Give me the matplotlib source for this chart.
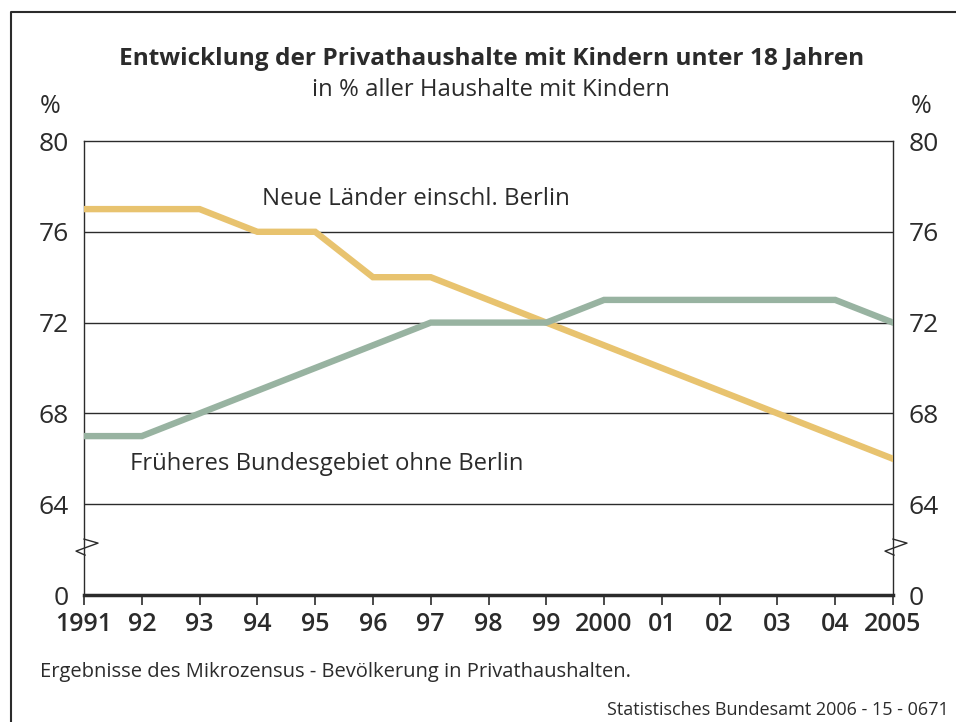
import numpy as np
import matplotlib
matplotlib.use("Agg")
import matplotlib.pyplot as plt
from matplotlib.lines import Line2D

plt.rcParams['font.family'] = ['Open Sans', 'DejaVu Sans']

# Data
years = [1991, 1992, 1993, 1994, 1995, 1996, 1997, 1998, 1999, 2000, 2001, 2002, 2003, 2004, 2005]
year_labels = ["1991", "92", "93", "94", "95", "96", "97", "98", "99", "2000", "01", "02", "03", "04", "2005"]
neue_laender = [77, 77, 77, 76, 76, 74, 74, 73, 72, 71, 70, 69, 68, 67, 66]
frueheres_bg = [67, 67, 68, 69, 70, 71, 72, 72, 72, 73, 73, 73, 73, 73, 72]
y_ticks = [0, 64, 68, 72, 76, 80]

orange = "#e8c36f"
green = "#98b3a1"
dark = "#2b2b2b"


# broken axis: 0..64 squeezed into the space of 4 units
def fwd(y):
    y = np.asarray(y, dtype=float)
    return np.where(y >= 64, y, 60 + y / 16.0)


def inv(z):
    z = np.asarray(z, dtype=float)
    return np.where(z >= 64, z, (z - 60) * 16.0)


fig = plt.figure(figsize=(9.56, 7.22), dpi=100)
ax = fig.add_axes([0.0879, 0.1759, 0.8462, 0.6288])
ax.set_yscale('function', functions=(fwd, inv))

ax.plot(years, neue_laender, color=orange, lw=4.6, solid_joinstyle='miter', zorder=3)
ax.plot(years, frueheres_bg, color=green, lw=4.6, solid_joinstyle='miter', zorder=3)

ax.set_xlim(1991, 2005)
ax.set_ylim(0, 80)
ax.set_yticks(y_ticks)
ax.set_yticklabels([str(t) for t in y_ticks])
for t in y_ticks[1:-1]:
    ax.axhline(t, color=dark, lw=1.0, zorder=1)

ax.set_xticks(years)
ax.set_xticklabels(year_labels, fontsize=18, fontweight='semibold', color=dark)
ax.tick_params(axis='x', direction='out', length=7, width=1.2, color=dark, pad=5)
ax.tick_params(axis='y', length=0, labelsize=19, labelcolor=dark, pad=11,
               left=True, right=True, labelleft=True, labelright=True)

for s in ['left', 'right', 'top']:
    ax.spines[s].set_linewidth(1.0)
    ax.spines[s].set_color(dark)
ax.spines['bottom'].set_linewidth(2.5)
ax.spines['bottom'].set_color(dark)

# axis break marks
zx = np.array([0, 14, -8, 1]) / 809.0
zy = np.array([8, 4, -4, -8]) / 454.0
yb = (62.35 - 60) / 20.0
for xa in (0.0, 1.0):
    ax.add_line(Line2D(xa + zx, yb + zy - 0.012, transform=ax.transAxes, color=dark, lw=1.0,
                       clip_on=False, zorder=5))

ax.text(1994.08, 77.45, "Neue Länder einschl. Berlin", fontsize=17.3, color=dark,
        ha='left', va='center')
ax.text(1991.8, 65.76, "Früheres Bundesgebiet ohne Berlin", fontsize=17.2, color=dark,
        ha='left', va='center')

fig.text(0.052, 0.852, "%", fontsize=18, color=dark, ha='center', va='center')
fig.text(0.964, 0.852, "%", fontsize=18, color=dark, ha='center', va='center')

fig.text(0.514, 0.918, "Entwicklung der Privathaushalte mit Kindern unter 18 Jahren",
         fontsize=17.6, fontweight='bold', color=dark, ha='center', va='center')
fig.text(0.514, 0.876, "in % aller Haushalte mit Kindern", fontsize=17.2, color=dark,
         ha='center', va='center')

fig.text(0.042, 0.069, "Ergebnisse des Mikrozensus - Bevölkerung in Privathaushalten.",
         fontsize=14.5, color=dark, ha='left', va='center')
fig.text(0.992, 0.017, "Statistisches Bundesamt 2006 - 15 - 0671", fontsize=13, color=dark,
         ha='right', va='center')

# frame (left and top)
fig.add_artist(Line2D([0.011, 0.011, 1.0], [0.0, 0.983, 0.983], transform=fig.transFigure,
                      color=dark, lw=1.5))

fig.savefig("out.png", dpi=100)
